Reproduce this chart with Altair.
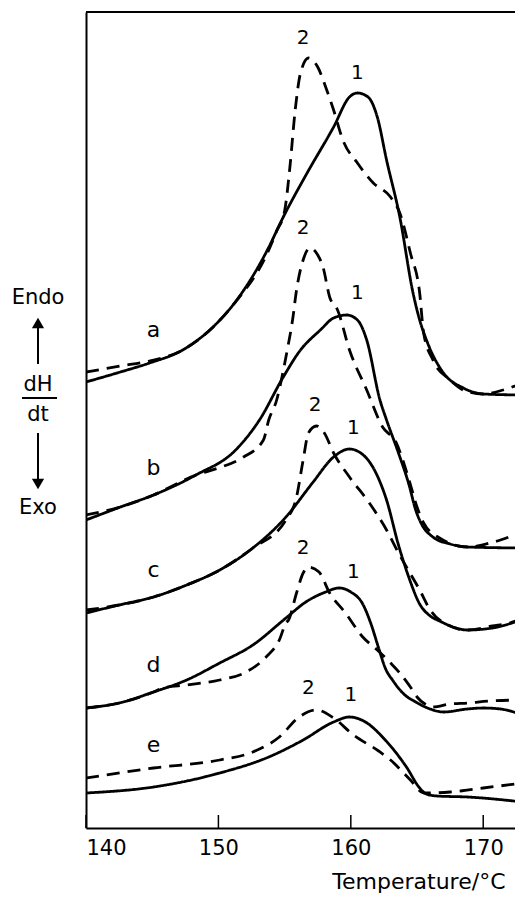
import altair as alt
import pandas as pd

# ---- data (x: temperature / degC, y: dH/dt, arbitrary units) ----
a1_T = [140.0, 142.6, 144.8, 147.3, 149.9, 151.1, 153.7, 154.9, 156.7, 158.7, 159.9, 160.5, 161.3, 162.0, 162.7, 163.7, 164.7, 165.2, 165.8, 167.0, 168.5, 170.0, 173.0]
a1_v = [446, 456, 465, 478, 505, 523, 578, 611, 655, 701, 731, 735, 731, 711, 668, 611, 535, 508, 485, 455, 440, 434, 433]
a2_T = [140.0, 142.6, 144.8, 147.3, 149.9, 151.1, 153.7, 154.4, 155.0, 155.4, 155.8, 156.2, 156.8, 157.5, 158.1, 158.7, 159.4, 160.5, 161.7, 163.0, 163.7, 164.5, 165.2, 165.5, 166.2, 167.5, 168.5, 170.0, 171.5, 173.0]
a2_v = [456, 462, 467, 478, 505, 523, 575, 597, 617, 661, 718, 755, 770, 761, 741, 718, 688, 665, 645, 631, 615, 575, 535, 495, 468, 448, 438, 434, 438, 445]

b1_T = [140.0, 142.6, 145.1, 148.3, 151.3, 153.1, 154.9, 156.2, 157.7, 158.7, 159.7, 160.5, 161.2, 162.2, 162.7, 163.6, 164.4, 164.9, 165.3, 166.2, 167.5, 168.8, 173.0]
b1_v = [308, 321, 333, 353, 378, 408, 451, 478, 498, 510, 513, 508, 488, 428, 408, 375, 343, 318, 305, 291, 284, 281, 280]
b2_T = [140.0, 142.6, 145.1, 148.3, 150.0, 151.9, 153.4, 153.8, 154.4, 154.8, 155.2, 155.6, 155.9, 156.4, 156.9, 157.5, 157.9, 158.4, 159.0, 159.9, 161.2, 162.4, 163.4, 164.4, 165.0, 165.5, 166.7, 168.8, 170.5, 171.3, 173.0]
b2_v = [313, 321, 333, 353, 360, 371, 388, 408, 428, 451, 478, 508, 538, 568, 580, 573, 561, 531, 518, 478, 438, 401, 386, 348, 321, 305, 290, 281, 285, 288, 297]

c1_T = [140.0, 142.5, 145.1, 147.6, 150.1, 152.6, 155.1, 157.1, 158.7, 159.9, 161.1, 161.9, 162.7, 163.6, 164.4, 165.2, 166.0, 166.7, 168.8, 170.7, 172.8, 173.0]
c1_v = [215, 223, 231, 243, 258, 280, 311, 345, 371, 379, 371, 355, 328, 283, 250, 224, 212, 207, 198, 200, 208, 209]
c2_T = [140.0, 142.5, 145.1, 147.6, 150.1, 152.6, 155.1, 155.9, 156.4, 156.8, 157.4, 158.0, 158.7, 159.9, 161.4, 162.7, 163.6, 164.2, 165.2, 166.0, 166.7, 168.8, 170.7, 172.0, 173.0]
c2_v = [218, 223, 231, 243, 258, 280, 308, 331, 368, 395, 402, 395, 375, 351, 325, 298, 275, 261, 238, 218, 208, 198, 202, 205, 210]

d1_T = [140.0, 142.5, 145.1, 147.6, 150.1, 152.6, 155.1, 156.6, 158.1, 159.1, 160.0, 160.9, 161.5, 162.1, 162.6, 163.2, 164.0, 164.9, 165.8, 167.0, 168.8, 170.0, 171.3, 172.3, 173.0]
d1_v = [120, 125, 136, 148, 165, 183, 210, 226, 236, 240, 236, 224, 205, 180, 160, 147, 134, 126, 120, 116, 119, 120, 119, 116, 113]
d2_T = [140.0, 142.5, 145.1, 145.8, 147.6, 150.1, 152.1, 153.6, 154.6, 155.1, 155.3, 155.9, 156.4, 156.8, 157.6, 158.4, 159.6, 160.9, 162.0, 163.0, 163.7, 164.5, 165.0, 165.6, 166.2, 167.5, 168.8, 170.5, 173.0]
d2_v = [120, 125, 136, 140, 143, 148, 156, 171, 188, 205, 208, 235, 255, 261, 256, 235, 215, 191, 178, 165, 155, 141, 131, 124, 121, 124, 125, 127, 128]

e1_T = [140.0, 145.1, 150.1, 153.8, 156.4, 158.7, 159.9, 161.1, 162.6, 164.2, 165.2, 165.7, 166.5, 168.8, 173.0]
e1_v = [35, 41, 55, 71, 88, 106, 111, 106, 88, 61, 40, 34, 32, 31, 26]
e2_T = [140.0, 145.1, 150.1, 152.6, 154.6, 156.1, 157.4, 158.7, 160.2, 162.1, 163.0, 164.5, 165.5, 167.5, 170.0, 173.0]
e2_v = [50, 60, 68, 76, 91, 111, 118, 110, 93, 77, 68, 48, 35, 36, 40, 45]

curve_letters = ["a", "b", "c", "d", "e"]
letter_T = [145.1, 145.1, 145.1, 145.1, 145.1]
letter_v = [498, 360, 258, 163, 83]

peak_text = ["2", "1", "2", "1", "2", "1", "2", "1", "2", "1"]
peak_T = [156.4, 160.5, 156.4, 160.5, 157.3, 160.2, 156.4, 160.2, 156.8, 160.0]
peak_v = [790, 755, 600, 535, 423, 400, 280, 256, 140, 133]

major_ticks = [140, 150, 160, 170]

# ---- build tables ----
series = {
    ("a", "1"): (a1_T, a1_v), ("a", "2"): (a2_T, a2_v),
    ("b", "1"): (b1_T, b1_v), ("b", "2"): (b2_T, b2_v),
    ("c", "1"): (c1_T, c1_v), ("c", "2"): (c2_T, c2_v),
    ("d", "1"): (d1_T, d1_v), ("d", "2"): (d2_T, d2_v),
    ("e", "1"): (e1_T, e1_v), ("e", "2"): (e2_T, e2_v),
}
rows = []
for (c, k), (ts, vs) in series.items():
    for i, (t, v) in enumerate(zip(ts, vs)):
        rows.append({"T": t, "v": v, "curve": c + k, "kind": k, "order": i})
df = pd.DataFrame(rows)

W, H = 429, 816
FONT = "DejaVu Sans"
xs = alt.Scale(domain=[140, 172.4], nice=False, zero=False)
ys = alt.Scale(domain=[0, 816], nice=False, zero=False)

lines = alt.Chart(df).mark_line(color="black", strokeWidth=2.8, interpolate="monotone", clip=True).encode(
    x=alt.X("T:Q", scale=xs,
            axis=alt.Axis(values=major_ticks, ticks=False, labelFont=FONT, labelFontSize=21,
                          labelColor="black", labelPadding=9, domainColor="black", domainWidth=2,
                          grid=False, title="Temperature/°C", titleFont=FONT, titleFontSize=22,
                          titleFontWeight="normal", titleColor="black", titleAlign="right",
                          titleAnchor="end", titleX=419, titleY=60, titleBaseline="alphabetic")),
    y=alt.Y("v:Q", scale=ys,
            axis=alt.Axis(labels=False, ticks=False, grid=False, title=None,
                          domainColor="black", domainWidth=2)),
    detail="curve:N",
    order="order:Q",
    strokeDash=alt.StrokeDash("kind:N", scale=alt.Scale(domain=["1", "2"], range=[[1, 0], [13, 8]]), legend=None),
)

ticks_df = pd.DataFrame({"T": major_ticks})
tick_marks = alt.Chart(ticks_df).mark_rule(color="black", strokeWidth=1.5).encode(
    x=alt.X("T:Q", scale=xs), y=alt.value(H), y2=alt.value(H - 13))

top_border = alt.Chart(ticks_df).mark_rule(color="black", strokeWidth=2).encode(
    x=alt.value(0), x2=alt.value(W), y=alt.value(0))

letters_df = pd.DataFrame({"t": curve_letters, "T": letter_T, "v": letter_v})
letters = alt.Chart(letters_df).mark_text(font=FONT, fontSize=22, color="black").encode(
    x=alt.X("T:Q", scale=xs), y=alt.Y("v:Q", scale=ys), text="t:N")

peaks_df = pd.DataFrame({"t": peak_text, "T": peak_T, "v": peak_v})
peaks = alt.Chart(peaks_df).mark_text(font=FONT, fontSize=20, color="black").encode(
    x=alt.X("T:Q", scale=xs), y=alt.Y("v:Q", scale=ys), text="t:N")

# ---- left side annotation: Endo / dH/dt / Exo with arrows ----
side_text = pd.DataFrame({"t": ["Endo", "dH", "dt", "Exo"], "py": [286, 373, 403, 496]})
side = alt.Chart(side_text).mark_text(font=FONT, fontSize=21, color="black").encode(
    x=alt.value(-48), y=alt.Y("py:Q", scale=None), text="t:N")

frac = alt.Chart(ticks_df).mark_rule(color="black", strokeWidth=2).encode(
    x=alt.value(-64), x2=alt.value(-29), y=alt.value(386))
up_stem = alt.Chart(ticks_df).mark_rule(color="black", strokeWidth=2).encode(
    x=alt.value(-48), y=alt.value(312), y2=alt.value(352))
down_stem = alt.Chart(ticks_df).mark_rule(color="black", strokeWidth=2).encode(
    x=alt.value(-48), y=alt.value(421), y2=alt.value(470))
arrows_df = pd.DataFrame({"py": [311, 472], "shape": ["triangle-up", "triangle-down"]})
arrow_heads = alt.Chart(arrows_df).mark_point(filled=True, color="black", opacity=1, size=150).encode(
    x=alt.value(-48), y=alt.Y("py:Q", scale=None),
    shape=alt.Shape("shape:N", scale=None))

chart = alt.layer(lines, tick_marks, top_border, letters, peaks, side, frac, up_stem, down_stem, arrow_heads).properties(
    width=W, height=H,
    autosize=alt.AutoSizeParams(type="none"),
    padding={"left": 78, "top": 4, "right": 0, "bottom": 69},
    background="white",
).configure_view(stroke=None)

chart.save("out.html", embed_options={"renderer": "svg", "actions": False})
